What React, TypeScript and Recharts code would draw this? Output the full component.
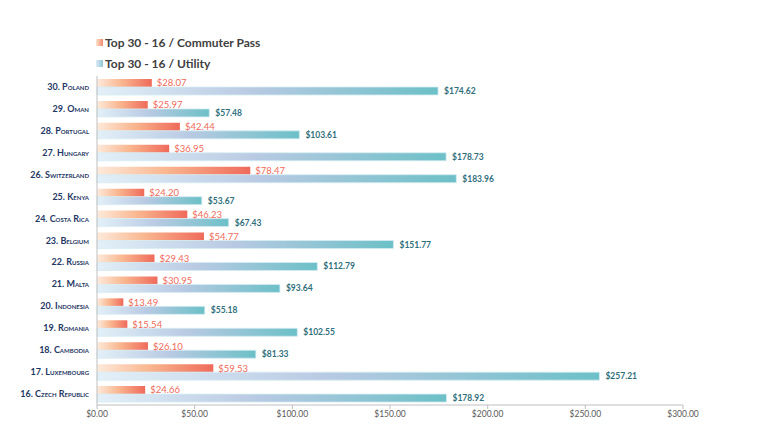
import { BarChart, Bar, XAxis, YAxis, LabelList } from "recharts";

const countries = [
  "30. Poland",
  "29. Oman",
  "28. Portugal",
  "27. Hungary",
  "26. Switzerland",
  "25. Kenya",
  "24. Costa Rica",
  "23. Belgium",
  "22. Russia",
  "21. Malta",
  "20. Indonesia",
  "19. Romania",
  "18. Cambodia",
  "17. Luxembourg",
  "16. Czech Republic",
];

const commuterPass = [
  28.07, 25.97, 42.44, 36.95, 78.47, 24.2, 46.23, 54.77, 29.43, 30.95, 13.49,
  15.54, 26.1, 59.53, 24.66,
];

const utility = [
  174.62, 57.48, 103.61, 178.73, 183.96, 53.67, 67.43, 151.77, 112.79, 93.64,
  55.18, 102.55, 81.33, 257.21, 178.92,
];

const xTicks = [0, 50, 100, 150, 200, 250, 300];

const seriesNames = ["Top 30 - 16 / Commuter Pass", "Top 30 - 16 / Utility"];

const data = countries.map((name, i) => ({
  name,
  commuter: commuterPass[i],
  utility: utility[i],
}));

const FONT = "Lato, 'Open Sans', sans-serif";
const money = (v: number) => `$${v.toFixed(2)}`;

function CountryTick({ x, y, payload }: any) {
  return (
    <text
      x={x}
      y={y}
      dy={3}
      textAnchor="end"
      fontSize={9}
      fontWeight={700}
      fill="#1f3864"
      style={{ fontVariant: "small-caps", fontFamily: FONT }}
    >
      {payload.value}
    </text>
  );
}

function LegendBox() {
  const items = [
    { label: seriesNames[0], from: "#fde3cf", to: "#f28a6a" },
    { label: seriesNames[1], from: "#dcebf5", to: "#8fc6d8" },
  ];
  return (
    <div
      style={{
        position: "absolute",
        left: 96,
        top: 32,
        fontFamily: FONT,
      }}
    >
      {items.map((it) => (
        <div
          key={it.label}
          style={{
            display: "flex",
            alignItems: "center",
            height: 21,
            fontSize: 12,
            fontWeight: 700,
            color: "#404040",
          }}
        >
          <span
            style={{
              display: "inline-block",
              width: 7,
              height: 7,
              marginRight: 2,
              background: `linear-gradient(to right, ${it.from}, ${it.to})`,
            }}
          />
          {it.label}
        </div>
      ))}
    </div>
  );
}

export default function App() {
  return (
    <div
      style={{
        position: "fixed",
        left: 0,
        top: 0,
        width: 768,
        height: 429,
        background: "#fff",
      }}
    >
      <BarChart
        width={768}
        height={429}
        data={data}
        layout="vertical"
        margin={{ top: 76, right: 85, left: 0, bottom: 0 }}
        barGap={0}
        barSize={8}
        style={{ fontFamily: FONT }}
      >
        <defs>
          <linearGradient id="gOrange" x1="0" x2="1" y1="0" y2="0">
            <stop offset="0%" stopColor="#fdeadb" />
            <stop offset="45%" stopColor="#f9b68f" />
            <stop offset="100%" stopColor="#ef6a5a" />
          </linearGradient>
          <linearGradient id="gBlue" x1="0" x2="1" y1="0" y2="0">
            <stop offset="0%" stopColor="#e3f0f8" />
            <stop offset="45%" stopColor="#b9cae3" />
            <stop offset="100%" stopColor="#6cc0c7" />
          </linearGradient>
        </defs>
        <XAxis
          type="number"
          domain={[0, 300]}
          ticks={xTicks}
          tickFormatter={money}
          height={24}
          stroke="#bfbfbf"
          tickSize={4}
          tick={{ fontSize: 8.5, fill: "#595959", fontFamily: FONT }}
        />
        <YAxis
          type="category"
          dataKey="name"
          width={97}
          stroke="#bfbfbf"
          tickLine={false}
          tick={<CountryTick />}
          interval={0}
        />
        <Bar
          dataKey="commuter"
          name={seriesNames[0]}
          fill="url(#gOrange)"
          isAnimationActive={false}
        >
          <LabelList
            dataKey="commuter"
            position="right"
            offset={5}
            formatter={(v: any) => money(Number(v))}
            style={{ fontSize: 9.5, fill: "#f06a5a", fontFamily: FONT }}
          />
        </Bar>
        <Bar
          dataKey="utility"
          name={seriesNames[1]}
          fill="url(#gBlue)"
          stroke="#d5ecf2"
          strokeWidth={0.8}
          isAnimationActive={false}
        >
          <LabelList
            dataKey="utility"
            position="right"
            offset={6}
            formatter={(v: any) => money(Number(v))}
            style={{
              fontSize: 8.5,
              fontWeight: 700,
              fill: "#2f6f7c",
              fontFamily: FONT,
            }}
          />
        </Bar>
      </BarChart>
      <LegendBox />
    </div>
  );
}
